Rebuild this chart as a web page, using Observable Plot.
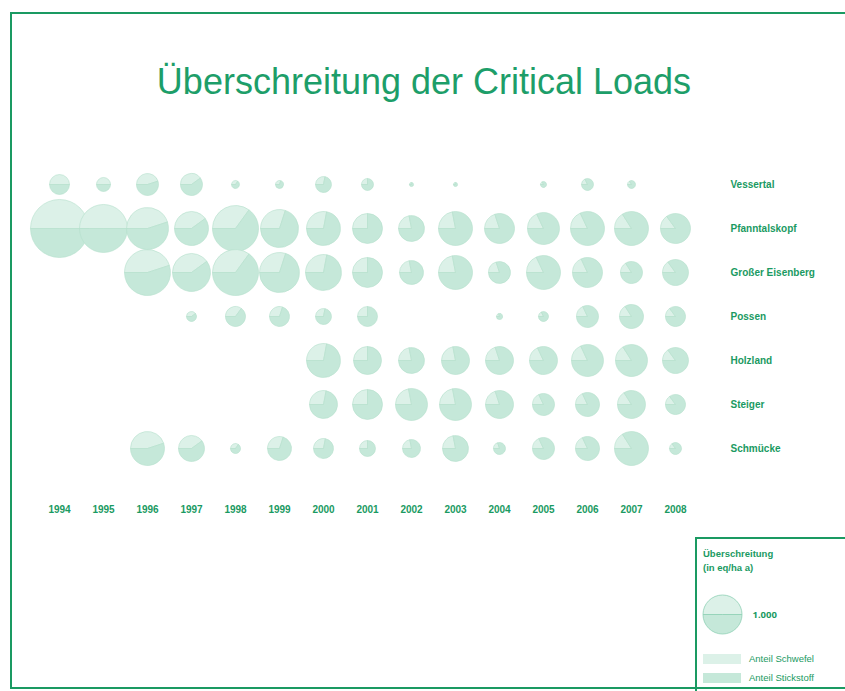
<!DOCTYPE html>
<html><head><meta charset="utf-8">
<script src="https://cdn.jsdelivr.net/npm/d3@7"></script>
<script src="https://cdn.jsdelivr.net/npm/@observablehq/plot@0.6"></script>
<style>
body{margin:0;background:#fff;font-family:"Liberation Sans",Arial,sans-serif;}
#frame{position:absolute;left:10px;top:12px;width:900px;height:677px;border:2px solid #1a9a62;box-sizing:border-box;}
#title{position:absolute;left:0;width:848px;top:61px;text-align:center;font-size:36px;color:#1d9e69;}
#chart{position:absolute;left:0;top:150px;}
#legend{position:absolute;left:695px;top:537px;width:170px;height:170px;border:2px solid #1a9a62;box-sizing:border-box;color:#1a9a62;font-size:9.5px;font-weight:bold;}
#legend .t{position:absolute;left:6px;top:8px;line-height:14px;}
#legcircle{position:absolute;left:0px;top:50px;}
.sw{position:absolute;left:6px;width:38px;height:10px;}
.sl{position:absolute;left:52px;font-weight:normal;}
</style></head>
<body>
<div id="frame"></div>
<div id="title">Überschreitung der Critical Loads</div>
<div id="chart"></div>
<div id="legend">
  <div class="t">Überschreitung<br>(in eq/ha a)</div>
  <div id="legcircle"></div>
  <div class="sw" style="top:115px;background:#dcf1e8"></div><div class="sl" style="top:114px">Anteil Schwefel</div>
  <div class="sw" style="top:134px;background:#c5e8d9"></div><div class="sl" style="top:133px">Anteil Stickstoff</div>
</div>
<script>
const years = [1994,1995,1996,1997,1998,1999,2000,2001,2002,2003,2004,2005,2006,2007,2008];
const sites = ["Vessertal","Pfanntalskopf","Großer Eisenberg","Possen","Holzland","Steiger","Schmücke"];
// total exceedance (eq/ha a), null = no data
const vessertal      = [263,129,318,318,42,42,168,95,11,11,null,24,95,42,null];
const pfanntalskopf  = [2212,1515,1160,760,1391,949,760,592,444,760,592,673,760,760,592];
const grosserEisenberg = [null,null,1391,949,1391,1052,852,592,379,760,318,760,592,318,444];
const possen         = [null,null,null,66,263,263,168,263,null,null,24,66,318,379,263];
const holzland       = [null,null,null,null,null,null,760,515,444,515,515,515,673,673,444];
const steiger        = [null,null,null,null,null,null,515,592,673,673,515,318,379,515,263];
const schmuecke      = [null,null,760,444,66,379,263,168,213,444,95,318,379,760,95];
// share of sulphur in exceedance per year
const sulfurShare = [0.5,0.5,0.45,0.4,0.35,0.3,0.28,0.25,0.22,0.22,0.2,0.18,0.18,0.16,0.15];
const legendValue = 1000;

const seriesBySite = [vessertal,pfanntalskopf,grosserEisenberg,possen,holzland,steiger,schmuecke];
const green = "#1a9a62";
const colS = "#dcf1e8", colN = "#c5e8d9";

function wedge(a0, a1){
  return {draw(ctx, size){
    const r = Math.sqrt(size/Math.PI);
    if (a1 - a0 >= 2*Math.PI - 1e-6){ ctx.moveTo(r,0); ctx.arc(0,0,r,0,2*Math.PI); ctx.closePath(); return; }
    ctx.moveTo(0,0); ctx.arc(0,0,r,a0,a1); ctx.closePath();
  }};
}
const rows = [];
sites.forEach((site,si)=>{
  seriesBySite[si].forEach((v,yi)=>{
    if (v == null) return;
    const s = sulfurShare[yi];
    const a0 = Math.PI, am = Math.PI + 2*Math.PI*s, a1 = 3*Math.PI;
    rows.push({site, year: years[yi], value: v, part:"S", sym: wedge(a0, am)});
    rows.push({site, year: years[yi], value: v, part:"N", sym: wedge(am, a1)});
  });
});

const rScale = {type:"sqrt", domain:[0,1000], range:[0,19.5]};

const chart = Plot.plot({
  width: 845, height: 380,
  marginLeft: 57, marginRight: 168, marginTop: 32, marginBottom: 81,
  style: {fontFamily: "'Liberation Sans', Arial, sans-serif", background: "transparent", overflow: "visible"},
  x: {type: "point", domain: years, padding: 0, label: null},
  y: {type: "point", domain: sites, padding: 0, label: null},
  r: rScale,
  symbol: {type: "identity"},
  marks: [
    Plot.dot(rows, {x: "year", y: "site", r: "value", symbol: "sym",
      fill: d => d.part === "S" ? colS : colN, stroke: "#b3dfcb", strokeWidth: 0.6}),
    Plot.axisX({anchor: "bottom", tickSize: 0, tickPadding: 56, tickFormat: d => String(d), label: null,
      fill: green, fontWeight: "bold", fontSize: 10}),
    Plot.axisY({anchor: "right", tickSize: 0, tickPadding: 53, label: null,
      fill: green, fontWeight: "bold", fontSize: 10})
  ]
});
document.getElementById("chart").appendChild(chart);

const legRows = [
  {v: legendValue, part:"S", sym: wedge(Math.PI, 2*Math.PI)},
  {v: legendValue, part:"N", sym: wedge(2*Math.PI, 3*Math.PI)}
];
const leg = Plot.plot({
  width: 60, height: 50, margin: 0,
  style: {background:"transparent", overflow:"visible"},
  x: {domain:[0,1], range:[25,25], axis: null},
  y: {domain:[0,1], range:[25,25], axis: null},
  r: rScale,
  symbol: {type: "identity"},
  marks: [
    Plot.dot(legRows, {x: () => 0, y: () => 0, r: "v", symbol: "sym",
      fill: d => d.part === "S" ? colS : colN, stroke: "#8fd0b5", strokeWidth: 0.8}),
    Plot.text([legendValue], {x: () => 0, y: () => 0, text: d => d3.format(",")(d).replace(",", "."),
      dx: 30, textAnchor: "start", fill: green, fontWeight: "bold", fontSize: 9.5})
  ]
});
document.getElementById("legcircle").appendChild(leg);
</script>
</body></html>
